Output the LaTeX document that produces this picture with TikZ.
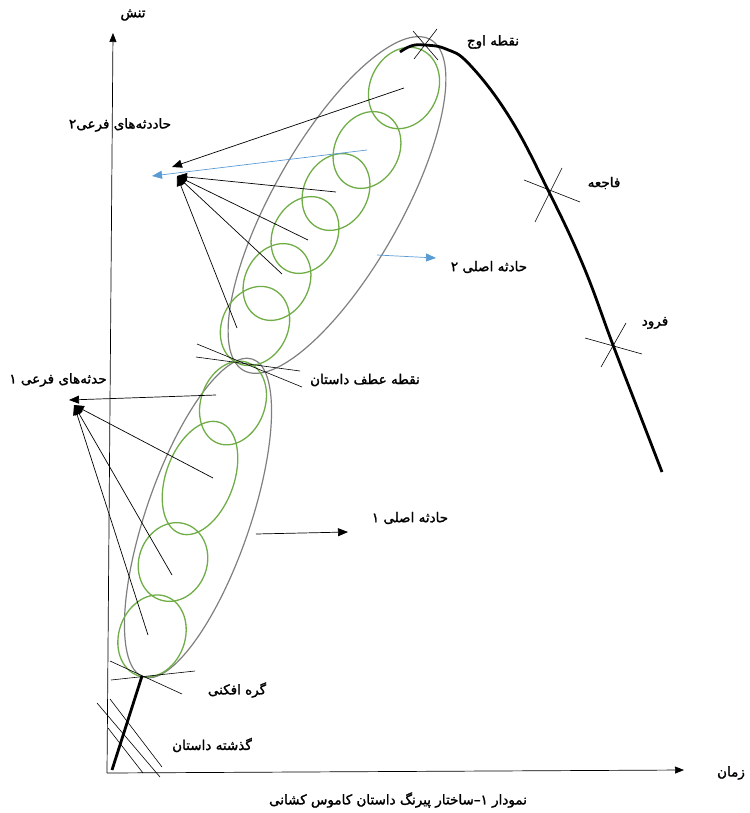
\documentclass[tikz,border=0pt]{standalone}
\usepackage{fontspec}
\newfontfamily\fafont[Script=Arabic, FakeBold=1.6]{DejaVu Sans}
\TeXXeTstate=1
\usetikzlibrary{arrows.meta}
\definecolor{evgreen}{HTML}{70AD47}
\definecolor{evblue}{HTML}{5B9BD5}
\definecolor{evgray}{HTML}{7F7F7F}

\begin{document}
\begin{tikzpicture}[x=1pt,y=-1pt,
  lbl/.style={font=\fafont\fontsize{13.5}{16}\selectfont, inner sep=1pt},
  ax/.style={line width=0.7pt, -{Triangle[length=9pt,width=7pt]}},
  curve/.style={line width=2.8pt},
  cross/.style={line width=0.6pt},
  big/.style={draw=evgray, line width=1.2pt},
  ev/.style={draw=evgreen, line width=1.3pt},
  sub/.style={line width=0.7pt, -{Triangle[length=10pt,width=8pt]}},
  sub2/.style={line width=0.7pt, draw=evblue, -{Triangle[length=10pt,width=8pt]}, evblue}]
  \useasboundingbox (0,0) rectangle (749,813);

  \coordinate (o) at (107,773);
  \coordinate (ytop) at (113,33);
  \coordinate (xend) at (684,770);
  \draw[ax] (o) -- (ytop);
  \draw[ax] (o) -- (xend);

  \coordinate (inc) at (142,676);
  \coordinate (tp) at (251,364);
  \coordinate (pk) at (424,45);

  \draw[big, rotate around={71:(198,518)}] (198,518) ellipse [x radius=168, y radius=52];
  \draw[big, rotate around={60.5:(337,205)}] (337,205) ellipse [x radius=190, y radius=64];

  \coordinate (l1) at (233,403);
  \coordinate (l2) at (200,478);
  \coordinate (l3) at (173,562);
  \coordinate (l4) at (152,636);
  \draw[ev, rotate around={70:(l1)}] (l1) ellipse [x radius=43, y radius=32];
  \draw[ev, rotate around={70:(l2)}] (l2) ellipse [x radius=59, y radius=34];
  \draw[ev, rotate around={70:(l3)}] (l3) ellipse [x radius=40, y radius=34];
  \draw[ev, rotate around={70:(l4)}] (l4) ellipse [x radius=42, y radius=33];

  \coordinate (u1) at (404,88);
  \coordinate (u2) at (367,150);
  \coordinate (u3) at (336,192);
  \coordinate (u4) at (305,235);
  \coordinate (u5) at (277,282);
  \coordinate (u6) at (255,326);
  \draw[ev, rotate around={65:(u1)}] (u1) ellipse [x radius=42, y radius=34];
  \draw[ev, rotate around={62:(u2)}] (u2) ellipse [x radius=40, y radius=32];
  \draw[ev, rotate around={62:(u3)}] (u3) ellipse [x radius=40, y radius=32];
  \draw[ev, rotate around={62:(u4)}] (u4) ellipse [x radius=40, y radius=32];
  \draw[ev, rotate around={62:(u5)}] (u5) ellipse [x radius=40, y radius=32];
  \draw[ev, rotate around={64:(u6)}] (u6) ellipse [x radius=41, y radius=33];

  \draw[curve] (112,770) -- (inc);
  \draw[curve] plot[smooth, tension=0.7] coordinates {(400,52) (411,46) (pk) (446,49) (470,65) (510,118) (548,190) (583,265) (613,345) (640,415) (662,472)};

  \draw[cross] (413,31) -- (438,60);
  \draw[cross] (437,29) -- (414,59);
  \draw[cross] (524,180) -- (580,202);
  \draw[cross] (562,168) -- (535,222);
  \draw[cross] (585,338) -- (642,354);
  \draw[cross] (626,323) -- (601,367);
  \draw[cross] (197,344) -- (302,387);
  \draw[cross] (196,357) -- (300,371);
  \draw[cross] (110,661) -- (182,694);
  \draw[cross] (111,680) -- (195,671);
  \draw[cross] (110,699) -- (162,767);
  \draw[cross] (97,703) -- (160,777);
  \draw[cross] (108,728) -- (143,773);

  \coordinate (t2) at (172,167);
  \coordinate (t2b) at (177,176);
  \coordinate (t1) at (69,400);
  \coordinate (t1b) at (74,405);
  \draw[sub] (u1) -- (t2);
  \draw[sub2] (u2) -- (152,176);
  \draw[sub] (u3) -- (t2b);
  \draw[sub] (308,240) -- (t2b);
  \draw[sub] (282,274) -- (t2b);
  \draw[sub] (237,328) -- (t2b);
  \draw[sub] (216,395) -- (t1);
  \draw[sub] (213,478) -- (t1b);
  \draw[sub] (172,575) -- (t1b);
  \draw[sub] (148,635) -- (t1b);

  \coordinate (m2) at (377,255);
  \coordinate (m1) at (256,534);
  \draw[sub2] (m2) -- (436,258);
  \draw[sub] (m1) -- (348,532);

  \node[lbl] (tension) at (133,15) {\beginR تنش\endR};
  \node[lbl] (time) at (731,773) {\beginR زمان\endR};
  \node[lbl] (climax) at (493,42) {\beginR نقطه اوج\endR};
  \node[lbl] (crisis) at (604,183) {\beginR فاجعه\endR};
  \node[lbl] (fall) at (655,323) {\beginR فرود\endR};
  \node[lbl] (main2) at (489,267) {\beginR حادثه اصلی ۲\endR};
  \node[lbl] (main1) at (410,518) {\beginR حادثه اصلی ۱\endR};
  \node[lbl] (turn) at (365,380) {\beginR نقطه عطف داستان\endR};
  \node[lbl] (side2) at (120,125) {\beginR حاددثه‌های فرعی۲\endR};
  \node[lbl] (side1) at (58,380) {\beginR حدثه‌های فرعی ۱\endR};
  \node[lbl] (knot) at (237,690) {\beginR گره افکنی\endR};
  \node[lbl] (past) at (212,745) {\beginR گذشته داستان\endR};
  \node[lbl] (caption) at (398,800) {\beginR نمودار ۱–ساختار پیرنگ داستان کاموس کشانی\endR};
\end{tikzpicture}
\end{document}
